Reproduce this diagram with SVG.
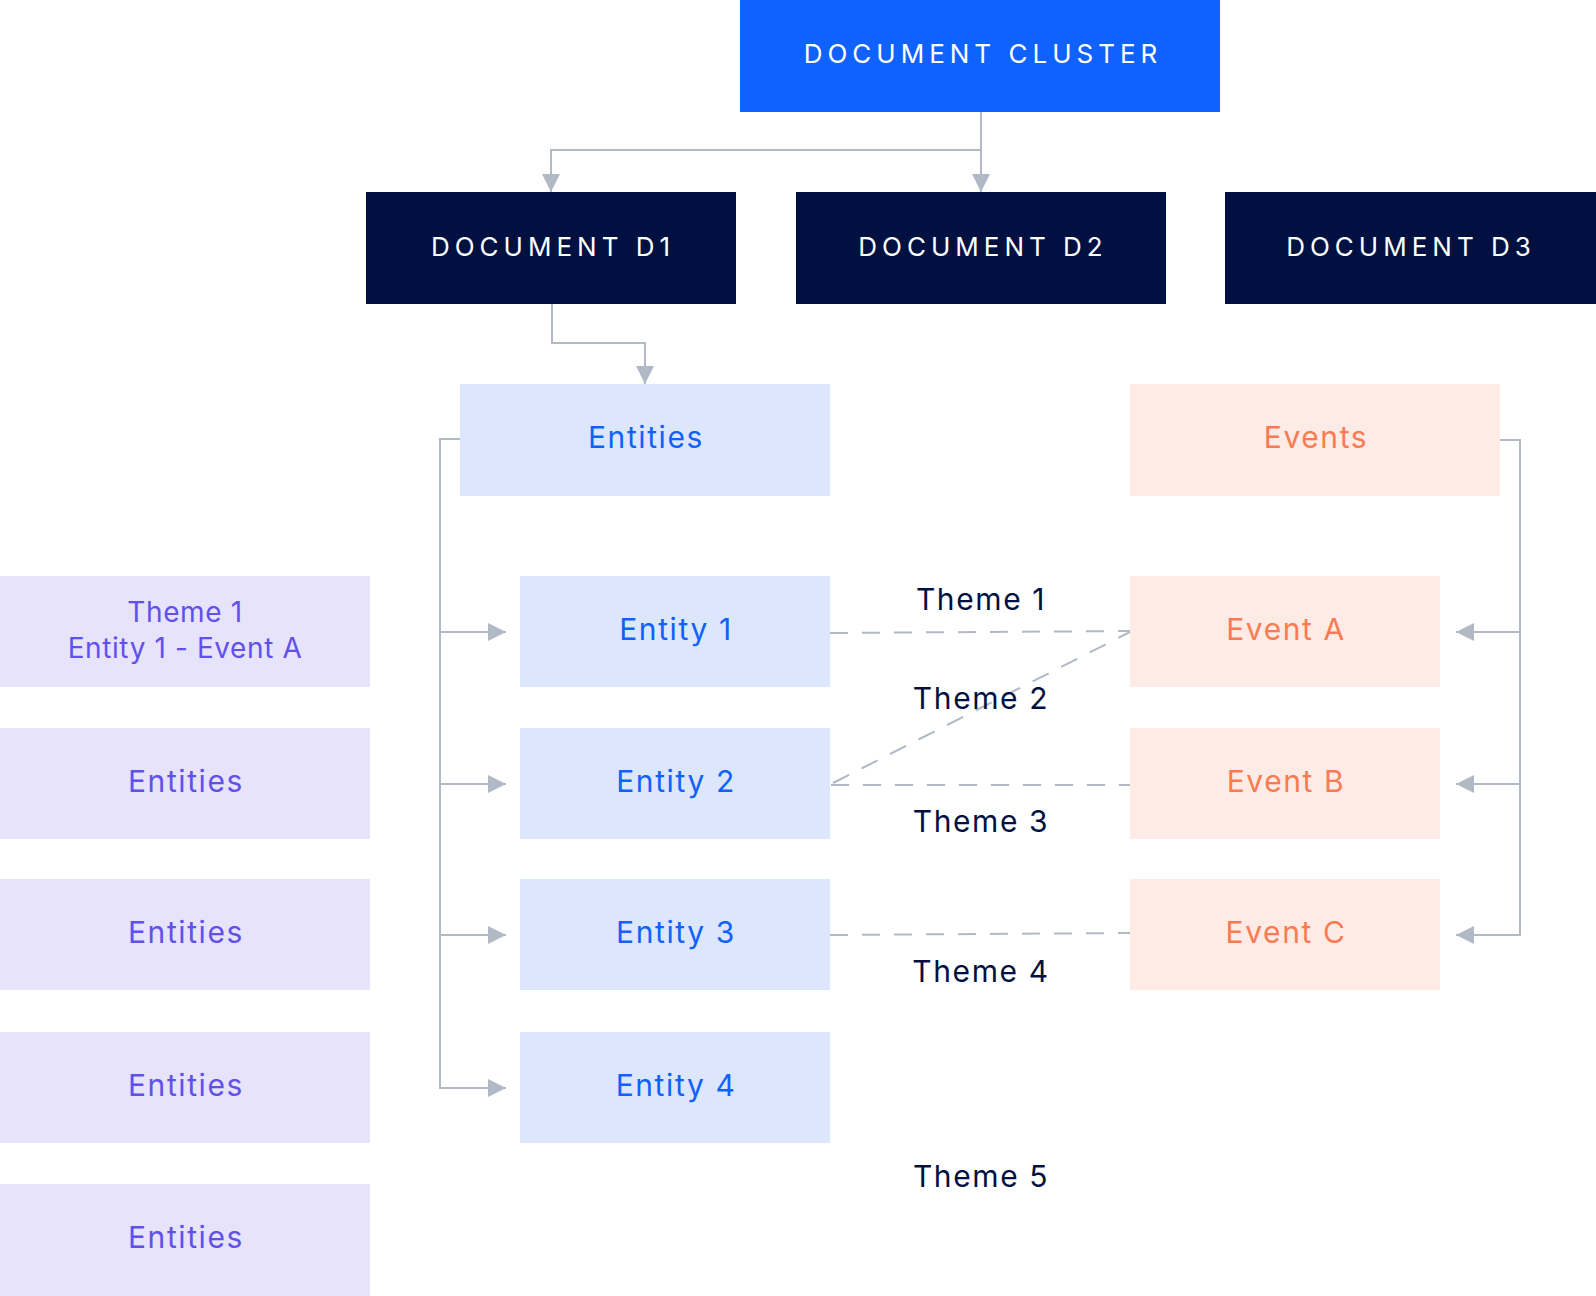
<svg xmlns="http://www.w3.org/2000/svg" width="1596" height="1296" viewBox="0 0 1596 1296">
<style>
text{font-family:Inter,"Liberation Sans",sans-serif;text-anchor:middle}
.cap{font-size:26px;letter-spacing:5px;fill:#ffffff}
.lbl{font-size:30px;letter-spacing:1.6px}
.sm{font-size:28px;letter-spacing:0.6px}
.ent rect{fill:#dce7fd}.ent text{fill:#0f62fe}
.evt rect{fill:#ffebe5}.evt text{fill:#fa7b52}
.thm rect{fill:#e6e3fb}.thm text{fill:#6150ec}
.tl{fill:#001141;font-size:30px;letter-spacing:1.6px}
.conn{fill:none;stroke:#b1b9c5;stroke-width:2}
.dash{stroke-dasharray:18 14}
</style>
<defs>
<marker id="ah" markerUnits="userSpaceOnUse" markerWidth="18" markerHeight="18" viewBox="0 0 18 18" refX="18" refY="9" orient="auto">
<path d="M0,0 L18,9 L0,18 Z" fill="#b1b9c5"/>
</marker>
</defs>
<g id="connectors">
<path class="conn" d="M981,112 V150 H551 V192" marker-end="url(#ah)"/>
<path class="conn" d="M981,112 V192" marker-end="url(#ah)"/>
<path class="conn" d="M552,304 V343 H645 V384" marker-end="url(#ah)"/>
<path class="conn" d="M460,439 H440 V1088 H506" marker-end="url(#ah)"/>
<path class="conn" d="M440,632 H506" marker-end="url(#ah)"/>
<path class="conn" d="M440,784 H506" marker-end="url(#ah)"/>
<path class="conn" d="M440,935 H506" marker-end="url(#ah)"/>
<path class="conn" d="M1500,440 H1520 V935 H1456" marker-end="url(#ah)"/>
<path class="conn" d="M1520,632 H1456" marker-end="url(#ah)"/>
<path class="conn" d="M1520,784 H1456" marker-end="url(#ah)"/>
<path class="conn dash" d="M830,633 L1130,631"/>
<path class="conn dash" d="M833,783 L1130,632"/>
<path class="conn dash" d="M831,785 L1130,785"/>
<path class="conn dash" d="M830,935 L1130,933"/>
</g>
<g id="cluster"><rect x="740" y="0" width="480" height="112" fill="#0f62fe"/><text class="cap" x="983" y="63">DOCUMENT CLUSTER</text></g>
<g id="doc-d1"><rect x="366" y="192" width="370" height="112" fill="#001141"/><text class="cap" x="553" y="256">DOCUMENT D1</text></g>
<g id="doc-d2"><rect x="796" y="192" width="370" height="112" fill="#001141"/><text class="cap" x="983" y="256">DOCUMENT D2</text></g>
<g id="doc-d3"><rect x="1225" y="192" width="371" height="112" fill="#001141"/><text class="cap" x="1411" y="256">DOCUMENT D3</text></g>
<g id="entities" class="ent"><rect x="460" y="384" width="370" height="112"/><text class="lbl" x="646" y="448">Entities</text></g>
<g id="events" class="evt"><rect x="1130" y="384" width="370" height="112"/><text class="lbl" x="1316" y="448">Events</text></g>
<g id="entity1" class="ent"><rect x="520" y="576" width="310" height="111"/><text class="lbl" x="676" y="640">Entity 1</text></g>
<g id="entity2" class="ent"><rect x="520" y="728" width="310" height="111"/><text class="lbl" x="676" y="792">Entity 2</text></g>
<g id="entity3" class="ent"><rect x="520" y="879" width="310" height="111"/><text class="lbl" x="676" y="943">Entity 3</text></g>
<g id="entity4" class="ent"><rect x="520" y="1032" width="310" height="111"/><text class="lbl" x="676" y="1096">Entity 4</text></g>
<g id="eventA" class="evt"><rect x="1130" y="576" width="310" height="111"/><text class="lbl" x="1286" y="640">Event A</text></g>
<g id="eventB" class="evt"><rect x="1130" y="728" width="310" height="111"/><text class="lbl" x="1286" y="792">Event B</text></g>
<g id="eventC" class="evt"><rect x="1130" y="879" width="310" height="111"/><text class="lbl" x="1286" y="943">Event C</text></g>
<g id="theme-box1" class="thm"><rect x="0" y="576" width="370" height="111"/><text class="sm" x="185" y="622">Theme 1</text><text class="sm" x="185" y="658">Entity 1 - Event A</text></g>
<g id="theme-box2" class="thm"><rect x="0" y="728" width="370" height="111"/><text class="lbl" x="186" y="792">Entities</text></g>
<g id="theme-box3" class="thm"><rect x="0" y="879" width="370" height="111"/><text class="lbl" x="186" y="943">Entities</text></g>
<g id="theme-box4" class="thm"><rect x="0" y="1032" width="370" height="111"/><text class="lbl" x="186" y="1096">Entities</text></g>
<g id="theme-box5" class="thm"><rect x="0" y="1184" width="370" height="112"/><text class="lbl" x="186" y="1248">Entities</text></g>
<g id="theme-labels">
<text class="tl" x="981" y="610">Theme 1</text>
<text class="tl" x="981" y="709">Theme 2</text>
<text class="tl" x="981" y="832">Theme 3</text>
<text class="tl" x="981" y="982">Theme 4</text>
<text class="tl" x="981" y="1187">Theme 5</text>
</g>
</svg>
